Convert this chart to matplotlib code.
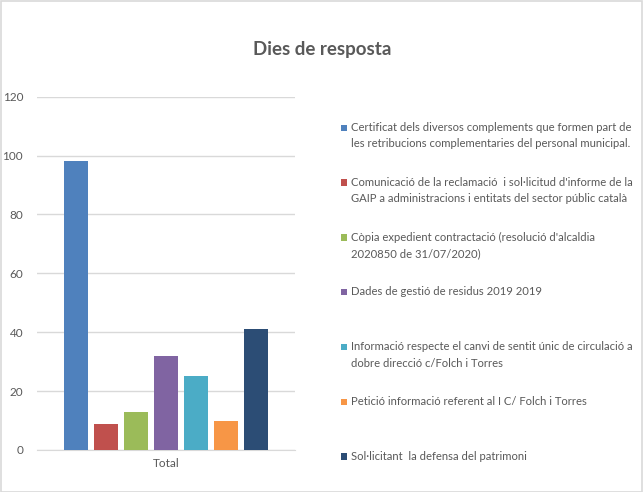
import matplotlib
matplotlib.use("Agg")
import matplotlib.pyplot as plt
from matplotlib.patches import Rectangle
import numpy as np

plt.rcParams['font.family'] = ['Lato', 'DejaVu Sans']

title = "Dies de resposta"
category = "Total"
labels = [
    "Certificat dels diversos complements que formen part de\nles retribucions complementaries del personal municipal.",
    "Comunicació de la reclamació  i sol·licitud d'informe de la\nGAIP a administracions i entitats del sector públic català",
    "Còpia expedient contractació (resolució d'alcaldia\n2020850 de 31/07/2020)",
    "Dades de gestió de residus 2019 2019",
    "Informació respecte el canvi de sentit únic de circulació a\ndobre direcció c/Folch i Torres",
    "Petició informació referent al I C/ Folch i Torres",
    "Sol·licitant  la defensa del patrimoni",
]
values = [98, 9, 13, 32, 25, 10, 41]
colors = ["#4F81BD", "#C0504D", "#9BBB59", "#8064A2", "#4BACC6", "#F79646", "#2C4D75"]
yticks = [0, 20, 40, 60, 80, 100, 120]

W, H = 644, 492
fig = plt.figure(figsize=(W / 100, H / 100), dpi=100)
fig.patch.set_facecolor("white")

# chart border
fig.add_artist(Rectangle((0.5 / W, 0.5 / H), 641.5 / W, 490.5 / H, transform=fig.transFigure,
                         fill=False, edgecolor="#d9d9d9", linewidth=1.2))

ax = fig.add_axes([37 / W, 1 - 450 / H, 258 / W, (450 - 96.7) / H])
n = len(values)
xs = np.arange(n) - (n - 1) / 2
ax.bar(xs, values, width=0.8, color=colors, zorder=3)
ax.set_xlim(-4.3, 4.3)
ax.set_ylim(0, 120)
ax.set_yticks(yticks)
ax.set_xticks([0])
ax.set_xticklabels([category])
ax.yaxis.grid(True, color="#d9d9d9", linewidth=1.0, zorder=0)
for s in ["top", "right", "left"]:
    ax.spines[s].set_visible(False)
ax.spines["bottom"].set_color("#d9d9d9")
ax.tick_params(axis="both", length=0, colors="#595959", labelsize=8.5)
ax.tick_params(axis="y", pad=10)
ax.tick_params(axis="x", pad=6)

fig.text(322 / W, 1 - 49 / H, title, ha="center", va="center", fontsize=13.5,
         fontweight="bold", color="#595959")

# legend
for i, (lab, c) in enumerate(zip(labels, colors)):
    y = 127.5 + i * 54.8
    fig.add_artist(Rectangle((341 / W, 1 - (y + 3.5) / H), 6.5 / W, 6.5 / H,
                             transform=fig.transFigure, facecolor=c, edgecolor="none"))
    fig.text(351 / W, 1 - (y - 5.5) / H, lab, ha="left", va="top", fontsize=8.1,
             color="#595959", linespacing=1.6)

fig.savefig("out.png", dpi=100)
